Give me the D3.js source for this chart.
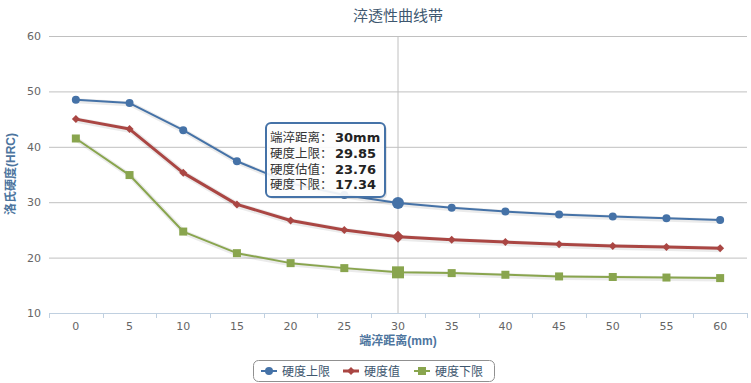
<!DOCTYPE html>
<html><head><meta charset="utf-8">
<script src="https://cdn.jsdelivr.net/npm/d3@7"></script>
<style>
body{margin:0;background:#fff;}
svg{display:block;font-family:"Liberation Sans",Arial,"Noto Sans CJK SC",sans-serif;}
</style></head>
<body><svg id="c" width="751" height="383"></svg>
<script>
const categories = [0,5,10,15,20,25,30,35,40,45,50,55,60];
const upper = [48.5,47.9,43.0,37.4,33.4,31.3,29.85,29.0,28.3,27.8,27.4,27.1,26.8];
const value = [45.0,43.2,35.3,29.6,26.7,25.0,23.76,23.2,22.8,22.4,22.1,21.9,21.7];
const lower = [41.5,34.9,24.7,20.8,19.0,18.1,17.34,17.2,16.9,16.6,16.5,16.4,16.3];
const yTicks = [10,20,30,40,50,60];
const seriesNames = ["硬度上限","硬度值","硬度下限"];
const colors = ["#4572A7","#AA4643","#89A54E"];
const hoverIndex = 6;

const svg = d3.select("#c");
const L=49, R=747, T=36, B=313;
const x = d3.scaleBand().domain(categories).range([L,R]);
const xc = d => x(d)+x.bandwidth()/2;
const y = d3.scaleLinear().domain([10,60]).range([B,T]);

// title
svg.append("text").attr("x",398).attr("y",21).attr("text-anchor","middle")
  .attr("font-size",15).attr("fill","#3E576F").text("淬透性曲线带");

// grid
const yAxis = d3.axisLeft(y).tickValues(yTicks).tickSize(-(R-L)).tickPadding(8);
const gy = svg.append("g").attr("transform",`translate(${L},0)`).call(yAxis);
gy.select(".domain").remove();
gy.selectAll("line").attr("stroke","#C0C0C0");
gy.selectAll("text").attr("font-size",11).attr("fill","#666").attr("font-family","DejaVu Sans, sans-serif");

// crosshair
svg.append("line").attr("x1",xc(categories[hoverIndex])).attr("x2",xc(categories[hoverIndex]))
  .attr("y1",T).attr("y2",B).attr("stroke","#C0C0C0").attr("stroke-width",1);

// x axis
const xAxis = d3.axisBottom(x).tickSize(0).tickPadding(9);
const gx = svg.append("g").attr("transform",`translate(0,${B})`).call(xAxis);
gx.select(".domain").attr("stroke","#C0D0E0").attr("d",`M${L},0.5H${R}`);
gx.selectAll("text").attr("font-size",11).attr("fill","#666").attr("font-family","DejaVu Sans, sans-serif");
// tick marks at band edges
const edges = categories.map(c=>x(c)).concat([R]);
svg.append("g").selectAll("line").data(edges).join("line")
  .attr("x1",d=>Math.round(d)+0.5).attr("x2",d=>Math.round(d)+0.5)
  .attr("y1",B).attr("y2",B+5).attr("stroke","#C0D0E0");

// axis titles
svg.append("text").attr("x",398).attr("y",345).attr("text-anchor","middle")
  .attr("font-size",12).attr("font-weight","bold").attr("fill","#4d759e").text("端淬距离(mm)");
svg.append("text").attr("transform","translate(15,174) rotate(-90)").attr("text-anchor","middle")
  .attr("font-size",12).attr("font-weight","bold").attr("fill","#4d759e").text("洛氏硬度(HRC)");

const data = [upper,value,lower];
const widths = [2,3,2];
const line = d3.line().x((d,i)=>xc(categories[i])).y(d=>y(d));

function marker(g, type, cx, cy, r, col){
  if(type===0){
    g.append("circle").attr("cx",cx).attr("cy",cy).attr("r",r).attr("fill",col);
  } else if(type===1){
    g.append("path").attr("d",`M${cx},${cy-r}L${cx+r},${cy}L${cx},${cy+r}L${cx-r},${cy}Z`).attr("fill",col);
  } else {
    g.append("rect").attr("x",cx-r).attr("y",cy-r).attr("width",2*r).attr("height",2*r).attr("fill",col);
  }
}

data.forEach((s,k)=>{
  const g = svg.append("g");
  g.append("path").datum(s).attr("d",line).attr("fill","none")
   .attr("stroke","rgba(0,0,0,0.08)").attr("stroke-width",widths[k]+3).attr("transform","translate(1,1)");
  g.append("path").datum(s).attr("d",line).attr("fill","none")
   .attr("stroke",colors[k]).attr("stroke-width",widths[k]).attr("stroke-linejoin","round");
  s.forEach((v,i)=>{
    const big = i===hoverIndex;
    marker(g,k,xc(categories[i]),y(v),big?6:4,colors[k]);
  });
});

// tooltip
const tip = svg.append("g").attr("transform","translate(266,123)");
tip.append("rect").attr("x",2).attr("y",2).attr("width",119).attr("height",74).attr("rx",5)
  .attr("fill","rgba(0,0,0,0.1)");
tip.append("rect").attr("width",119).attr("height",74).attr("rx",5)
  .attr("fill","rgba(255,255,255,0.9)").attr("stroke","#4572A7").attr("stroke-width",2);
const tipLabels = ["端淬距离：","硬度上限：","硬度估值：","硬度下限："];
const tipVals = [categories[hoverIndex]+"mm", upper[hoverIndex].toFixed(2), value[hoverIndex].toFixed(2), lower[hoverIndex].toFixed(2)];
tipLabels.forEach((t,i)=>{
  tip.append("text").attr("x",4).attr("y",19+i*15.8).attr("font-size",12.5).attr("fill","#333")
   .attr("font-family","'Liberation Sans','Noto Sans CJK SC',sans-serif").text(t);
  tip.append("text").attr("x",69).attr("y",19+i*15.8).attr("font-weight","bold").attr("font-size",13)
   .attr("font-family","'DejaVu Sans',sans-serif").attr("fill","#222").text(tipVals[i]);
});

// legend
const lg = svg.append("g");
lg.append("rect").attr("x",253.5).attr("y",360.5).attr("width",241).attr("height",21).attr("rx",5)
  .attr("fill","#fff").attr("stroke","#909090");
const itemX = [261,343,414];
seriesNames.forEach((n,k)=>{
  const ix = itemX[k];
  lg.append("line").attr("x1",ix).attr("x2",ix+16).attr("y1",371).attr("y2",371)
    .attr("stroke",colors[k]).attr("stroke-width",widths[k]);
  marker(lg,k,ix+8,371,4,colors[k]);
  lg.append("text").attr("x",ix+21).attr("y",376).attr("font-size",12).attr("fill","#3E576F")
    .attr("font-family","'Noto Sans CJK SC',sans-serif").text(n);
});
</script></body></html>
